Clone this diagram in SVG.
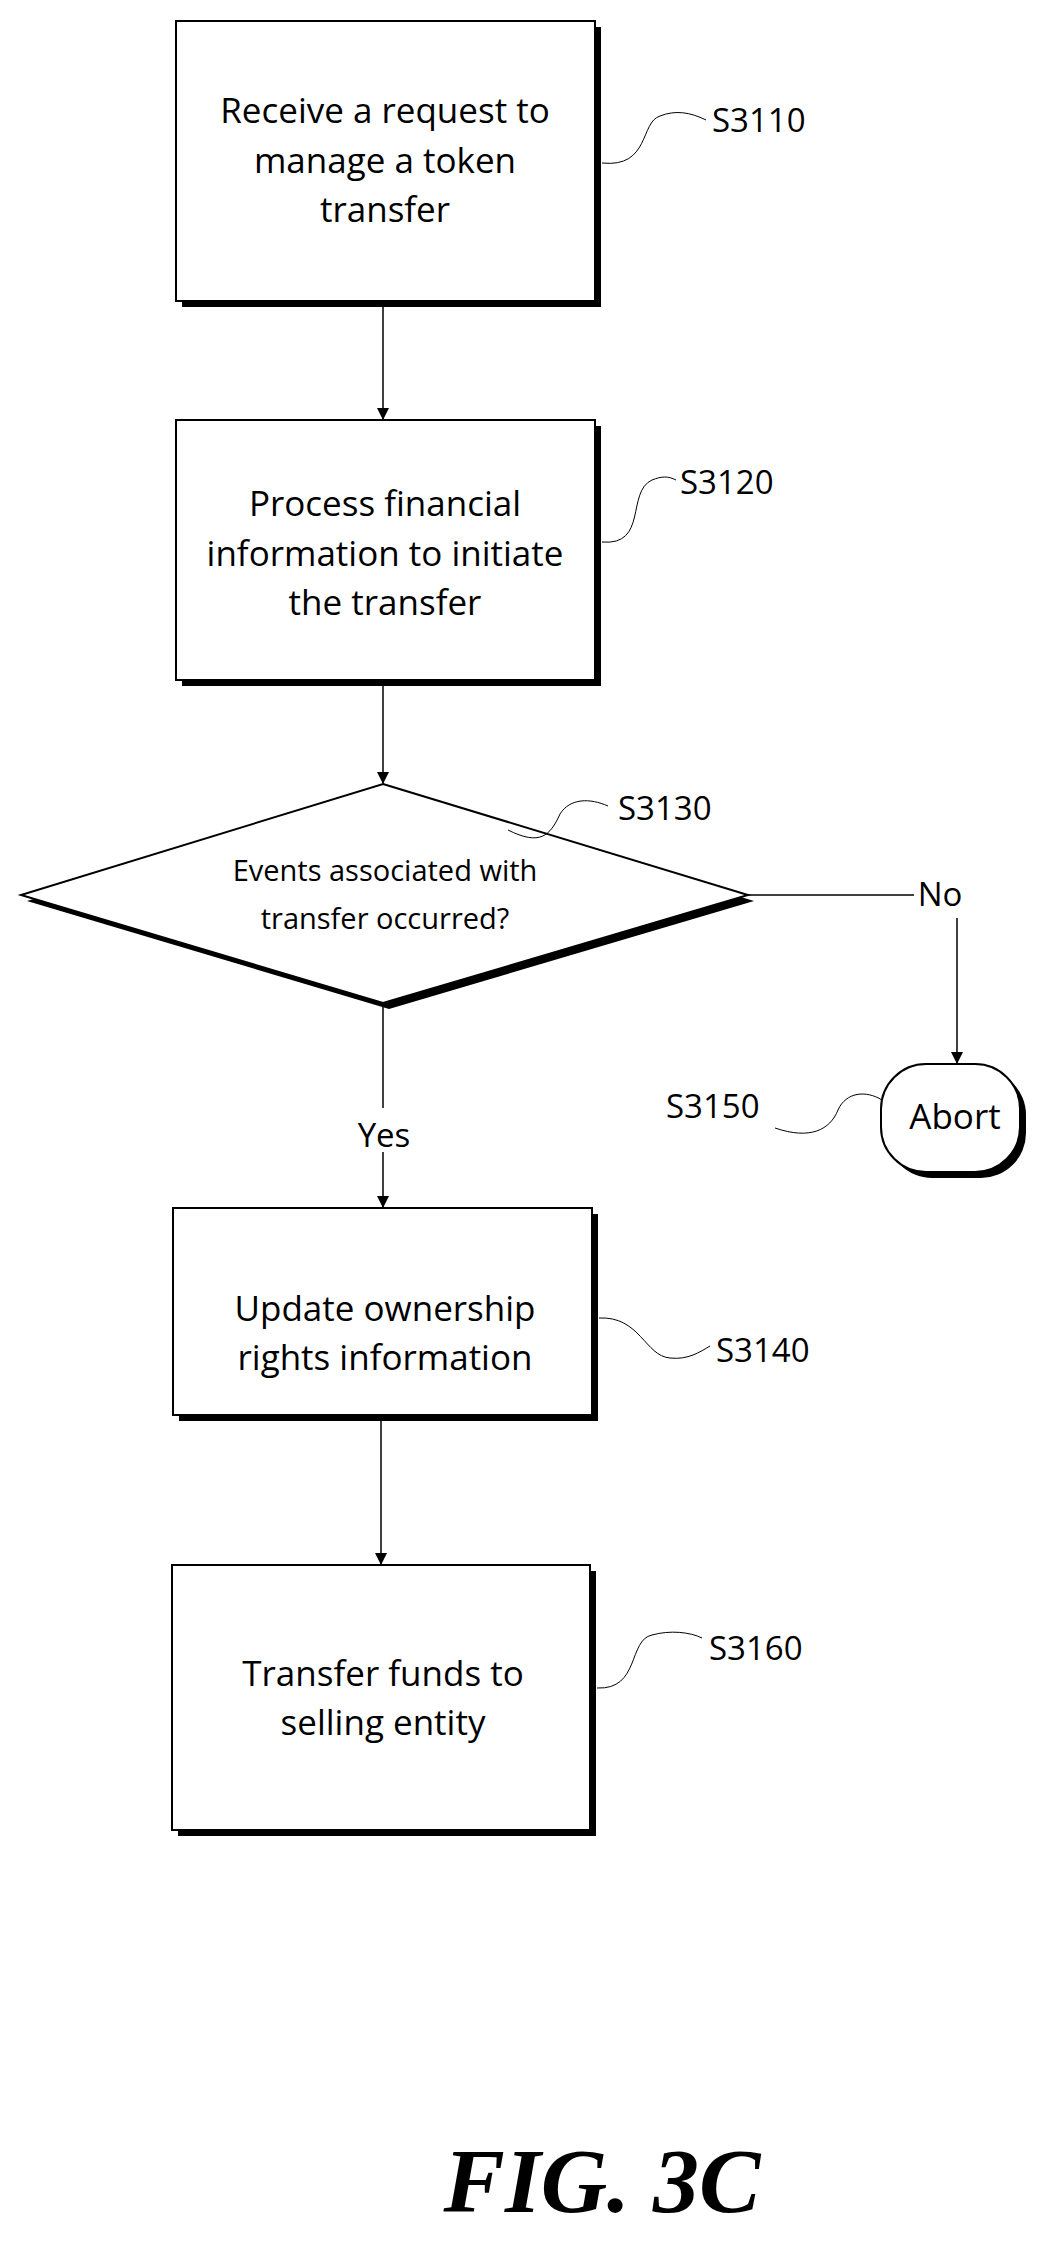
<svg xmlns="http://www.w3.org/2000/svg" width="1063" height="2260" viewBox="0 0 1063 2260">
<defs>
<style>
.box{fill:#fff;stroke:#000;stroke-width:2}
.sh{fill:#000}
.t{font-family:"Open Sans","DejaVu Sans",sans-serif;font-size:35px;text-anchor:middle;fill:#000}
.d{font-family:"Open Sans","DejaVu Sans",sans-serif;font-size:29px;text-anchor:middle;fill:#000}
.lb{font-family:"Open Sans","DejaVu Sans",sans-serif;font-size:33px;fill:#000}
.c{fill:none;stroke:#000;stroke-width:1.5}
.sq{fill:none;stroke:#000;stroke-width:1}
</style>
<marker id="ah" markerWidth="12" markerHeight="12" refX="11" refY="6" orient="auto" markerUnits="userSpaceOnUse"><path d="M0,0 L12,6 L0,12 Z" fill="#000"/></marker>
</defs>
<rect width="1063" height="2260" fill="#fff"/>
<g id="connectors">
<line class="c" x1="383" y1="301" x2="383" y2="419" marker-end="url(#ah)"/>
<line class="c" x1="383" y1="680" x2="383" y2="783" marker-end="url(#ah)"/>
<line class="c" x1="748" y1="895" x2="914" y2="895"/>
<line class="c" x1="957" y1="918" x2="957" y2="1063" marker-end="url(#ah)"/>
<line class="c" x1="383" y1="1003" x2="383" y2="1108"/>
<line class="c" x1="383" y1="1152" x2="383" y2="1207" marker-end="url(#ah)"/>
<line class="c" x1="381" y1="1415" x2="381" y2="1564" marker-end="url(#ah)"/>
<text class="lb" x="940" y="906" text-anchor="middle">No</text>
<text class="lb" x="384" y="1147" text-anchor="middle">Yes</text>
</g>
<g id="S3110">
<rect class="sh" x="182" y="27" width="419" height="280"/>
<rect class="box" x="176" y="21" width="419" height="280"/>
<text class="t" x="385" y="123">Receive a request to</text>
<text class="t" x="385" y="173">manage a token</text>
<text class="t" x="385" y="222">transfer</text>
<path class="sq" d="M602,163 C650,168 640,122 660,116 C675,110 690,112 706,120"/>
<text class="lb" x="712" y="132">S3110</text>
</g>
<g id="S3120">
<rect class="sh" x="182" y="426" width="419" height="260"/>
<rect class="box" x="176" y="420" width="419" height="260"/>
<text class="t" x="385" y="516">Process financial</text>
<text class="t" x="385" y="566">information to initiate</text>
<text class="t" x="385" y="615">the transfer</text>
<path class="sq" d="M602,542 C648,546 626,492 652,480 C662,476 668,476 676,480"/>
<text class="lb" x="680" y="494">S3120</text>
</g>
<g id="S3130">
<polygon class="sh" points="389,790 754,901 389,1009 27,901"/>
<polygon class="box" points="383,784 748,895 383,1003 21,895"/>
<text class="d" x="385" y="881">Events associated with</text>
<text class="d" x="385" y="929">transfer occurred?</text>
<path class="sq" d="M508,830 C540,846 550,836 560,814 C570,798 590,798 608,806"/>
<text class="lb" x="618" y="820">S3130</text>
</g>
<g id="S3150">
<rect class="sh" x="887" y="1070" width="139" height="108" rx="45"/>
<rect class="box" x="881" y="1064" width="139" height="108" rx="45"/>
<text class="t" x="955" y="1129">Abort</text>
<path class="sq" d="M775,1128 C810,1140 830,1130 838,1110 C846,1092 866,1090 882,1100"/>
<text class="lb" x="666" y="1118">S3150</text>
</g>
<g id="S3140">
<rect class="sh" x="179" y="1214" width="419" height="207"/>
<rect class="box" x="173" y="1208" width="419" height="207"/>
<text class="t" x="385" y="1321">Update ownership</text>
<text class="t" x="385" y="1370">rights information</text>
<path class="sq" d="M599,1318 C640,1316 645,1356 670,1358 C688,1360 700,1352 710,1346"/>
<text class="lb" x="716" y="1362">S3140</text>
</g>
<g id="S3160">
<rect class="sh" x="178" y="1571" width="418" height="265"/>
<rect class="box" x="172" y="1565" width="418" height="265"/>
<text class="t" x="383" y="1686">Transfer funds to</text>
<text class="t" x="383" y="1735">selling entity</text>
<path class="sq" d="M597,1688 C640,1690 628,1640 652,1635 C670,1630 690,1632 702,1638"/>
<text class="lb" x="709" y="1660">S3160</text>
</g>
<text x="602" y="2212" text-anchor="middle" font-family="Liberation Serif,serif" font-style="italic" font-weight="bold" font-size="92">FIG. 3C</text>
</svg>
